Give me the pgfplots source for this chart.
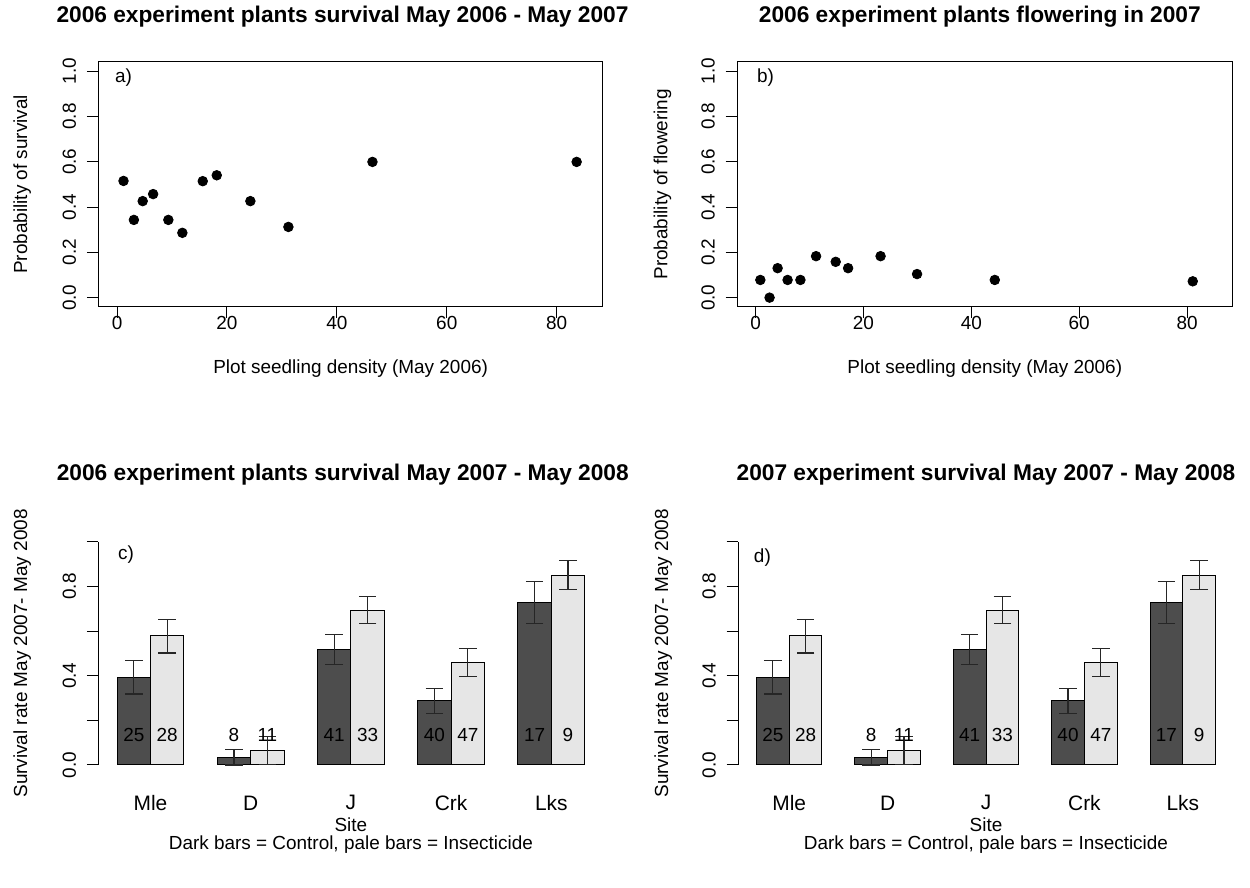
\documentclass[border=0pt]{standalone}
\usepackage{fontspec}
\setmainfont{Liberation Sans}
\usepackage{pgfplots}
\pgfplotsset{compat=1.18}
\usepackage{pgfplotstable}

\definecolor{darkbar}{HTML}{4D4D4D}
\definecolor{palebar}{HTML}{E6E6E6}

\pgfplotstableread{
x y
1.17 0.515
3.06 0.343
4.66 0.426
6.56 0.457
9.33 0.343
11.88 0.286
15.59 0.514
18.14 0.540
24.26 0.426
31.18 0.312
46.48 0.599
83.64 0.599
}\survA

\pgfplotstableread{
x y
0.89 0.078
2.60 0.000
4.09 0.130
5.94 0.078
8.32 0.078
11.22 0.183
14.86 0.158
17.16 0.130
23.18 0.183
29.94 0.104
44.35 0.078
81.05 0.072
}\flowB

\pgfplotstableread{
x y ep em
1.5 0.392 0.076 0.074
4.5 0.033 0.036 0.033
7.5 0.518 0.066 0.068
10.5 0.289 0.053 0.060
13.5 0.728 0.096 0.094
}\ctrl

\pgfplotstableread{
x y ep em
2.5 0.580 0.072 0.078
5.5 0.067 0.060 0.064
8.5 0.692 0.063 0.057
11.5 0.459 0.063 0.064
14.5 0.849 0.069 0.062
}\insect

\pgfplotstableread{
x y lab
1.5 0.135 25
2.5 0.135 28
4.5 0.135 8
5.5 0.135 11
7.5 0.135 41
8.5 0.135 33
10.5 0.135 40
11.5 0.135 47
13.5 0.135 17
14.5 0.135 9
}\counts

\newcommand{\lblfont}{\fontsize{9.5}{11}\selectfont}
\newcommand{\ttlfont}{\bfseries\fontsize{11.4}{13}\selectfont}

\pgfplotsset{
  rbase/.style={
    scale only axis, anchor=south west,
    tick align=outside, major tick length=5.75bp,
    every tick/.style={black, line width=0.5bp},
    axis line style={line width=0.5bp},
    ticklabel style={font=\lblfont},
    label style={font=\lblfont},
    yticklabel style={xshift=-8.75bp, rotate=90, anchor=center},
    xticklabel style={anchor=center, yshift=-2.25bp},
    clip=false,
  },
  scat/.style={rbase, tick pos=left,
    xmin=-3.4, xmax=88.4, ymin=-0.04, ymax=1.04,
    xtick={0,20,40,60,80}, xticklabels={0,20,40,60,80},
    ytick={0,0.2,0.4,0.6,0.8,1}, yticklabels={0.0,0.2,0.4,0.6,0.8,1.0},
    xlabel={Plot seedling density (May 2006)},
    xlabel style={at={(axis description cs:0.5,-0.253)}, anchor=center},
    ylabel style={at={(axis description cs:-0.151,0.5)}, anchor=center},
  },
  bars/.style={rbase,
    xmin=0.44, xmax=15.56, ymin=-0.04, ymax=1.04,
    axis y line*=left, axis x line*=bottom,
    x axis line style={draw=none},
    y axis line style={-, shorten <=4.46bp, shorten >=4.46bp},
    xtick={2,5,8,11,14}, xticklabels={Mle,D,J,Crk,Lks},
    xtick style={draw=none},
    xticklabel style={font=\fontsize{10.5}{12}\selectfont, anchor=center, yshift=-6.5bp},
    ytick={0,0.2,0.4,0.6,0.8,1}, yticklabels={0.0,,0.4,,0.8,},
    xlabel={Site\\Dark bars = Control, pale bars = Insecticide},
    xlabel style={at={(axis description cs:0.5,-0.256)}, anchor=center, align=center,
      font=\fontsize{9.5}{9.2}\selectfont},
    ylabel={Survival rate May 2007- May 2008},
    ylabel style={at={(axis description cs:-0.151,0.5)}, anchor=center},
  },
  barstyle/.style={ybar, bar width=1, bar shift=0pt, fill=#1, draw=black, line width=0.5bp,
    error bars/.cd, y dir=both, y explicit,
    error bar style={black!85, line width=0.6bp},
    error mark options={rotate=90, mark size=4.4bp, black!85, line width=0.6bp}},
}

\begin{document}
\begin{tikzpicture}
\useasboundingbox (0,0) rectangle (625bp,444bp);

% panel a
\begin{axis}[scat, at={(49.2bp,290.65bp)}, width=252.2bp, height=122.35bp,
  ylabel={Probability of survival}]
\addplot[only marks, mark=*, mark size=2.4bp, black] table {\survA};
\node[anchor=west, font=\lblfont] at (axis description cs:0.019,0.935) {a)};
\node[font=\ttlfont] at (axis description cs:0.484,1.184) {2006 experiment plants survival May 2006 - May 2007};
\end{axis}

% panel b
\begin{axis}[scat, at={(368.6bp,290.65bp)}, width=247.6bp, height=122.35bp,
  ylabel={Probability of flowering}]
\addplot[only marks, mark=*, mark size=2.4bp, black] table {\flowB};
\node[anchor=west, font=\lblfont] at (axis description cs:0.026,0.935) {b)};
\node[font=\ttlfont] at (axis description cs:0.49,1.184) {2006 experiment plants flowering in 2007};
\end{axis}

% panel c
\begin{axis}[bars, at={(49.2bp,57.05bp)}, width=252.5bp, height=120.45bp]
\addplot[barstyle=darkbar] table[x=x, y=y, y error plus=ep, y error minus=em] {\ctrl};
\addplot[barstyle=palebar] table[x=x, y=y, y error plus=ep, y error minus=em] {\insect};
\addplot[only marks, mark=none, nodes near coords, point meta=explicit symbolic,
  nodes near coords style={anchor=center, font=\lblfont, black}]
  table[x=x, y=y, meta=lab] {\counts};
\node[anchor=west, font=\lblfont] at (axis description cs:0.025,0.909) {c)};
\node[font=\ttlfont] at (axis description cs:0.484,1.241) {2006 experiment plants survival May 2007 - May 2008};
\end{axis}

% panel d
\begin{axis}[bars, at={(369bp,57.05bp)}, width=248bp, height=120.45bp]
\addplot[barstyle=darkbar] table[x=x, y=y, y error plus=ep, y error minus=em] {\ctrl};
\addplot[barstyle=palebar] table[x=x, y=y, y error plus=ep, y error minus=em] {\insect};
\addplot[only marks, mark=none, nodes near coords, point meta=explicit symbolic,
  nodes near coords style={anchor=center, font=\lblfont, black}]
  table[x=x, y=y, meta=lab] {\counts};
\node[anchor=west, font=\lblfont] at (axis description cs:0.018,0.897) {d)};
\node[font=\ttlfont] at (axis description cs:0.5,1.241) {2007 experiment survival May 2007 - May 2008};
\end{axis}
\end{tikzpicture}
\end{document}
